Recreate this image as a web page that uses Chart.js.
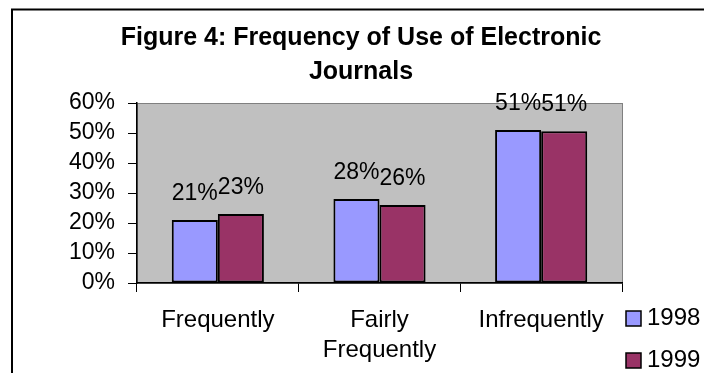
<!DOCTYPE html>
<html>
<head>
<meta charset="utf-8">
<title>Frequency of Use of Electronic Journals</title>
<script src="https://cdn.jsdelivr.net/npm/chart.js@4.4.1/dist/chart.umd.min.js"></script>
<style>
  html, body { margin: 0; padding: 0; background: #fff; }
  #wrap { width: 704px; height: 373px; }
</style>
</head>
<body>
<div id="wrap"><canvas id="usageChart" width="704" height="373"></canvas></div>
<script>
// Survey answers, share of respondents per year
const categories = ['Frequently', ['Fairly', 'Frequently'], 'Infrequently'];
const years = ['1998', '1999'];
const share1998 = [0.21, 0.28, 0.51];
const share1999 = [0.23, 0.26, 0.506];
const yMin = 0;
const yMax = 0.6;
const yStep = 0.1;

const FONT = "'Liberation Sans', Arial, sans-serif";
const pct = v => Math.round(v * 100) + '%';

// Grey plot area plus the outer chart frame
const backdrop = {
  id: 'backdrop',
  beforeDraw(chart) {
    const { ctx, chartArea: a } = chart;
    ctx.save();
    ctx.fillStyle = '#fff';
    ctx.fillRect(0, 0, chart.width, chart.height);
    ctx.strokeStyle = '#000';
    ctx.lineWidth = 2;
    ctx.strokeRect(12, 9.5, chart.width + 20, chart.height + 20);
    ctx.fillStyle = '#c0c0c0';
    ctx.fillRect(a.left, a.top, a.right - a.left, a.bottom - a.top);
    ctx.strokeStyle = '#808080';
    ctx.lineWidth = 1;
    ctx.strokeRect(a.left + 0.5, a.top + 0.5, a.right - a.left, a.bottom - a.top);
    ctx.restore();
  }
};

// Title sits centred between x=100 and the plot's right edge
const titleSpan = {
  id: 'titleSpan',
  afterLayout(chart) {
    chart.titleBlock.left = 100;
  }
};

// Percent labels above each bar
const valueLabels = {
  id: 'valueLabels',
  afterDatasetsDraw(chart) {
    const { ctx } = chart;
    ctx.save();
    ctx.font = '23px ' + FONT;
    ctx.fillStyle = '#000';
    ctx.textAlign = 'center';
    ctx.textBaseline = 'alphabetic';
    chart.data.datasets.forEach((ds, i) => {
      chart.getDatasetMeta(i).data.forEach((bar, j) => {
        ctx.fillText(pct(ds.data[j]), bar.x, bar.y - 20);
      });
    });
    ctx.restore();
  }
};

// Excel-style legend stacked under the right end of the plot
const sideLegend = {
  id: 'sideLegend',
  afterDraw(chart) {
    const { ctx, chartArea: a } = chart;
    ctx.save();
    ctx.font = '24px ' + FONT;
    ctx.textBaseline = 'alphabetic';
    ctx.textAlign = 'left';
    chart.data.datasets.forEach((ds, i) => {
      const x = a.right + 4;
      const y = a.bottom + 28 + i * 42;
      ctx.fillStyle = ds.backgroundColor;
      ctx.fillRect(x, y, 15, 15);
      ctx.strokeStyle = '#000';
      ctx.lineWidth = 1.5;
      ctx.strokeRect(x, y, 15, 15);
      ctx.fillStyle = '#000';
      ctx.fillText(ds.label, x + 21, y + 14);
    });
    ctx.restore();
  }
};

new Chart(document.getElementById('usageChart'), {
  type: 'bar',
  data: {
    labels: categories,
    datasets: [
      {
        label: years[0],
        data: share1998,
        backgroundColor: '#9999ff',
        borderColor: '#000',
        borderWidth: 2,
        borderSkipped: false
      },
      {
        label: years[1],
        data: share1999,
        backgroundColor: '#993366',
        borderColor: '#000',
        borderWidth: 2,
        borderSkipped: false
      }
    ]
  },
  options: {
    responsive: false,
    animation: false,
    categoryPercentage: 0.57,
    barPercentage: 1,
    layout: { padding: { left: 60, right: 82, top: 0, bottom: 0 } },
    plugins: {
      legend: { display: false },
      tooltip: { enabled: false },
      title: {
        display: true,
        text: ['Figure 4: Frequency of Use of Electronic', 'Journals'],
        color: '#000',
        font: { family: FONT, size: 25, weight: 'bold', lineHeight: 34 / 25 },
        padding: { top: 21, bottom: 14 }
      }
    },
    scales: {
      x: {
        grid: { drawOnChartArea: false, drawTicks: true, tickLength: 9, color: '#000', offset: true },
        border: { color: '#000', width: 1.5 },
        ticks: {
          color: '#000',
          font: { family: FONT, size: 24, lineHeight: 30 / 24 },
          padding: 13,
          maxRotation: 0,
          autoSkip: false
        },
        afterFit: scale => { scale.height = 90; }
      },
      y: {
        min: yMin,
        max: yMax,
        grid: { drawOnChartArea: false, drawTicks: true, tickLength: 9, color: '#000' },
        border: { color: '#000', width: 1.5 },
        ticks: {
          stepSize: yStep,
          autoSkip: false,
          color: '#000',
          font: { family: FONT, size: 23 },
          padding: 13,
          callback: v => pct(v)
        },
        afterFit: scale => { scale.width = 77; }
      }
    }
  },
  plugins: [backdrop, titleSpan, valueLabels, sideLegend]
});
</script>
</body>
</html>
